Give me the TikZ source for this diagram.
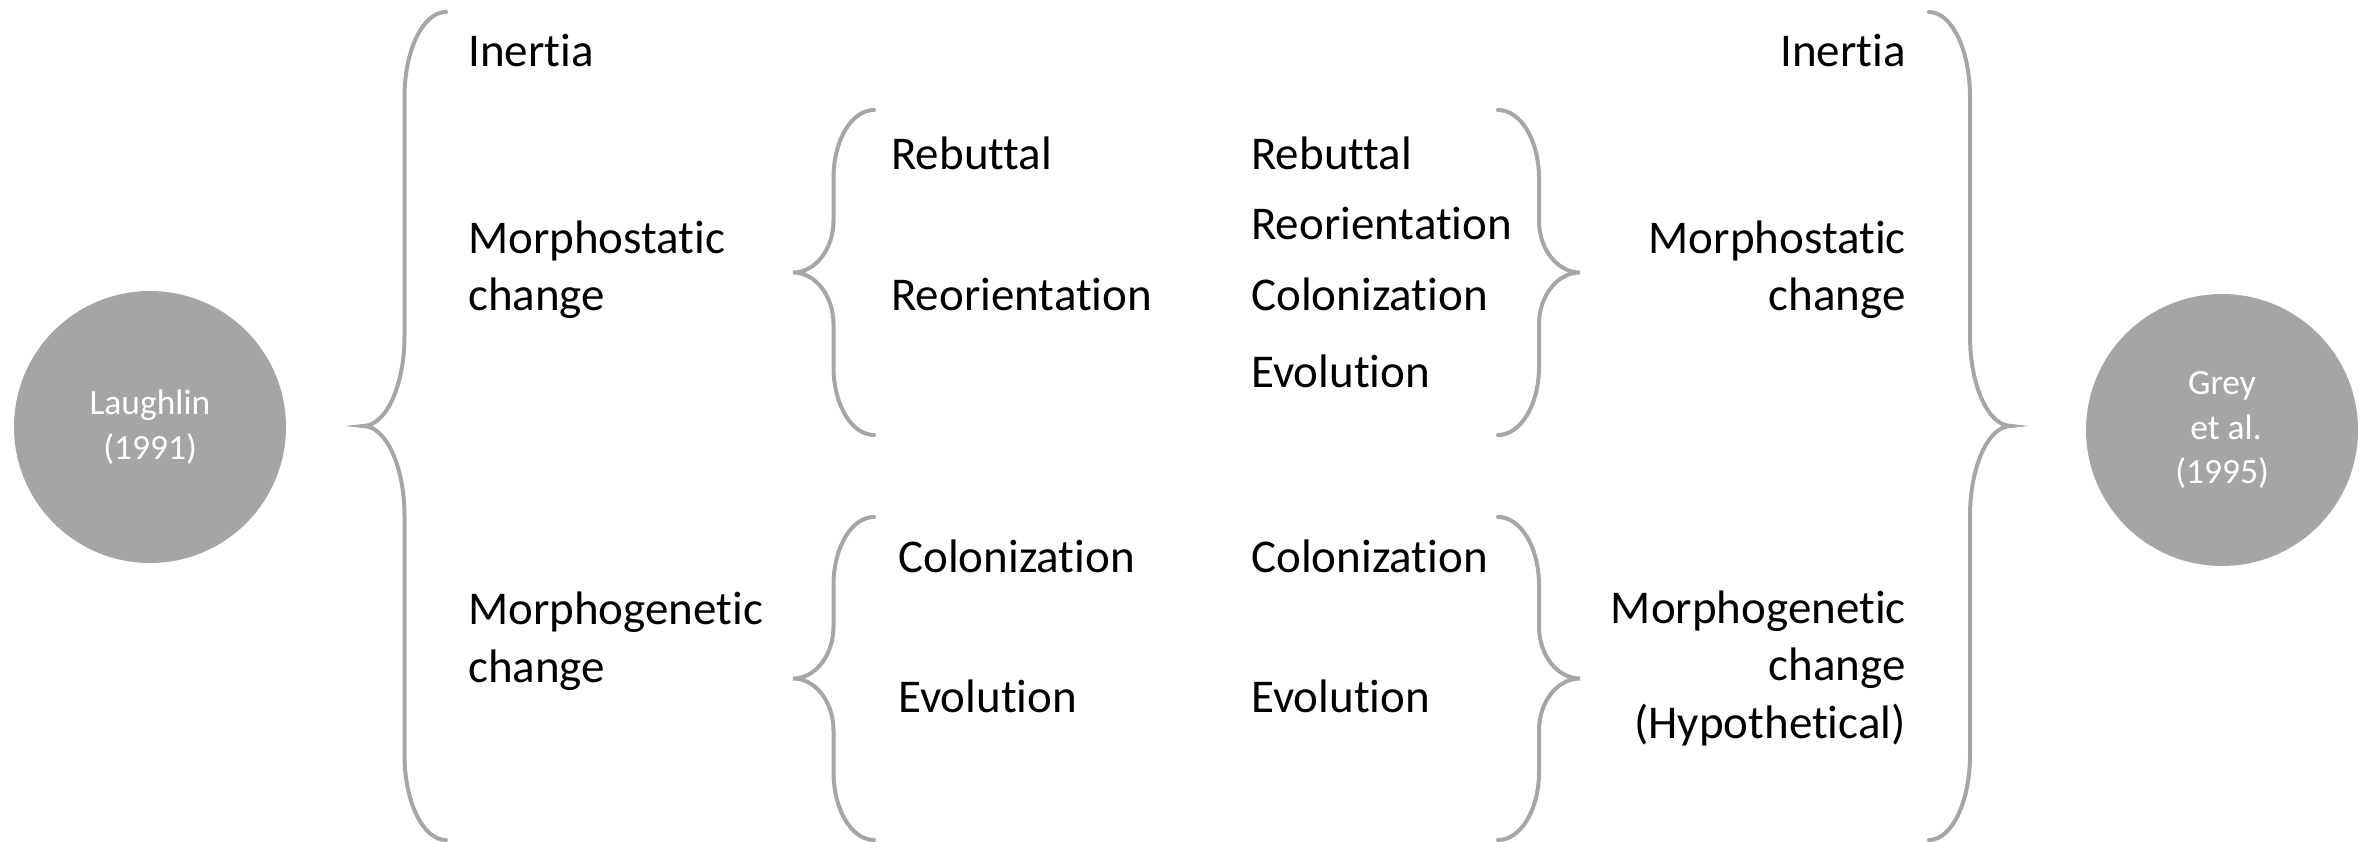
\documentclass[tikz,border=0pt]{standalone}
\usepackage{fontspec}
\setmainfont{Carlito}[Ligatures={NoCommon}]
\definecolor{bracegray}{HTML}{A6A6A6}
\definecolor{circlegray}{HTML}{A5A5A5}
\newcommand{\labfont}{\fontsize{47}{57.5}\selectfont}
\newcommand{\circfont}{\fontsize{35.5}{44.5}\selectfont}
% #1 end x, #2 top y, #3 bottom y, #4 signed width, #5 end radius, #6 tip radius
\newcommand{\BraceShape}[6]{%
  \draw[bracestyle] (#1,#2)
    .. controls ({#1-0.5523*(#4)/2},#2) and ({#1-(#4)/2},{#2+#5-0.5523*#5}) .. ({#1-(#4)/2},{#2+#5})
    -- ({#1-(#4)/2},{(#2+#3)/2-#6})
    .. controls ({#1-(#4)/2},{(#2+#3)/2-#6+0.5523*#6}) and ({#1-(#4)+0.5523*(#4)/2},{(#2+#3)/2}) .. ({#1-(#4)},{(#2+#3)/2})
    .. controls ({#1-(#4)+0.5523*(#4)/2},{(#2+#3)/2}) and ({#1-(#4)/2},{(#2+#3)/2+#6-0.5523*#6}) .. ({#1-(#4)/2},{(#2+#3)/2+#6})
    -- ({#1-(#4)/2},{#3-#5})
    .. controls ({#1-(#4)/2},{#3-#5+0.5523*#5}) and ({#1-0.5523*(#4)/2},#3) .. (#1,#3);}
\begin{document}
\begin{tikzpicture}[x=1pt,y=-1pt,
  bracestyle/.style={draw=bracegray, line width=4pt, line cap=round},
  author/.style={circle, fill=circlegray, minimum size=272pt, inner sep=0pt,
    text=white, align=center, font=\circfont},
  lab/.style={inner sep=0pt, font=\labfont, text=black},
  labL/.style={lab, anchor=base west, align=left},
  labR/.style={lab, anchor=base east, align=right}]
\useasboundingbox (0,0) rectangle (2366,842);

% authors
\node[author] (laughlin) at (150,427) {Laughlin\\(1991)};
\node[author] (grey) at (2222,430) {Grey\\\hspace*{0.226em}et al.\\(1995)};

% braces
\BraceShape{446}{12}{840}{83}{85}{90}
\BraceShape{1929}{12}{840}{-82}{85}{90}
\BraceShape{874}{110}{435}{81}{68}{52}
\BraceShape{874}{517}{840}{81}{68}{52}
\BraceShape{1498}{110}{435}{-82}{68}{52}
\BraceShape{1498}{517}{840}{-82}{68}{52}

% Laughlin side (base anchor of a multi-line node = last line)
\node[labL] (l-inertia) at (468,67) {Inertia};
\node[labL] (l-static) at (468,311) {Morphostatic\\change};
\node[labL] (l-genetic) at (468,682) {Morphogenetic\\change};
\node[labL] (l-reb) at (891,170) {Rebuttal};
\node[labL] (l-reo) at (891,311) {Reorientation};
\node[labL] (l-col) at (898,572) {Colonization};
\node[labL] (l-evo) at (898,712) {Evolution};

% Grey et al. side
\node[labL] (r-reb) at (1251,170) {Rebuttal};
\node[labL] (r-reo) at (1251,240) {Reorientation};
\node[labL] (r-col1) at (1251,311) {Colonization};
\node[labL] (r-evo1) at (1251,387) {Evolution};
\node[labL] (r-col2) at (1251,572) {Colonization};
\node[labL] (r-evo2) at (1251,712) {Evolution};
\node[labR] (r-inertia) at (1906,67) {Inertia};
\node[labR] (r-static) at (1906,311) {Morphostatic\\change};
\node[labR] (r-genetic) at (1906,738) {Morphogenetic\\change\\(Hypothetical)};
\end{tikzpicture}
\end{document}
